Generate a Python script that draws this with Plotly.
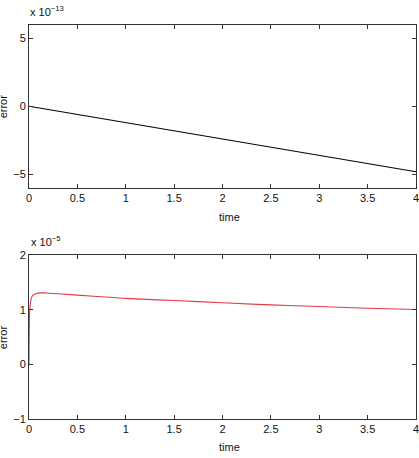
import plotly.graph_objects as go

# Top panel data (error, order 1e-13)
t_top = [0, 4]
err_top = [0.0, -4.8e-13]

# Bottom panel data (error, order 1e-5)
t_bot = [0, 0.002, 0.005, 0.01, 0.02, 0.03, 0.05, 0.08, 0.12, 0.16, 0.2, 0.3, 0.5, 0.75, 1.0, 1.5, 2.0, 2.5, 3.0, 3.5, 4.0]
err_bot = [0, 0.5e-5, 0.85e-5, 1.05e-5, 1.18e-5, 1.24e-5, 1.28e-5, 1.30e-5, 1.31e-5, 1.31e-5, 1.305e-5, 1.295e-5, 1.27e-5, 1.24e-5, 1.21e-5, 1.17e-5, 1.13e-5, 1.09e-5, 1.06e-5, 1.03e-5, 1.005e-5]

x_ticks = [0, 0.5, 1, 1.5, 2, 2.5, 3, 3.5, 4]
x_ticktext = ["0", "0.5", "1", "1.5", "2", "2.5", "3", "3.5", "4"]
top_yticks = [-5e-13, 0, 5e-13]
top_yticktext = ["\u22125", "0", "5"]
bot_yticks = [-1e-5, 0, 1e-5, 2e-5]
bot_yticktext = ["\u22121", "0", "1", "2"]

W, H = 419, 458
fig = go.Figure()
fig.add_trace(go.Scatter(x=t_top, y=err_top, mode="lines",
                         line=dict(color="black", width=1.1), xaxis="x", yaxis="y", showlegend=False))
fig.add_trace(go.Scatter(x=t_bot, y=err_bot, mode="lines", line_shape="spline",
                         line=dict(color="#e23a46", width=1.1), xaxis="x2", yaxis="y2", showlegend=False))

font = dict(family="Liberation Sans, Arial, sans-serif", size=11, color="#111")
axcommon = dict(showgrid=False, zeroline=False, showline=True, linecolor="#333", linewidth=1,
                mirror="ticks", ticks="inside", ticklen=4, tickcolor="#333", tickfont=font,
                ticklabeloverflow="allow")

L, R = 29, 417
fig.update_layout(
    width=W, height=H, margin=dict(l=L, r=W - R, t=0, b=0),
    paper_bgcolor="white", plot_bgcolor="white",
    xaxis=dict(domain=[0, 1], range=[0, 4], tickvals=x_ticks, ticktext=x_ticktext, anchor="y", **axcommon),
    yaxis=dict(domain=[(H - 187) / H, (H - 19) / H], range=[-6e-13, 6e-13], tickvals=top_yticks,
               ticktext=top_yticktext, anchor="x", **axcommon),
    xaxis2=dict(domain=[0, 1], range=[0, 4], tickvals=x_ticks, ticktext=x_ticktext, anchor="y2", **axcommon),
    yaxis2=dict(domain=[(H - 424) / H, (H - 256) / H], range=[-1e-5, 2e-5], tickvals=bot_yticks,
                ticktext=bot_yticktext, anchor="x2", **axcommon),
)

def px_y(p):
    return 1 - p / H

ann = []
# time labels
ann.append(dict(text="time", x=(230 - L) / (R - L), y=px_y(217), xref="x domain", yref="paper",
                showarrow=False, font=font, xanchor="center", yanchor="middle"))
ann.append(dict(text="time", x=(230 - L) / (R - L), y=px_y(453), xref="x domain", yref="paper",
                showarrow=False, font=font, xanchor="center", yanchor="middle"))
# error labels
for yc in (103, 340):
    ann.append(dict(text="error", x=(3 - L) / (R - L), y=px_y(yc), xref="x domain", yref="paper",
                    showarrow=False, font=font, textangle=-90, xanchor="center", yanchor="middle"))
# exponent labels
ann.append(dict(text="x 10<sup>\u221213</sup>", x=(28 - L) / (R - L), y=px_y(5), xref="x domain", yref="paper",
                showarrow=False, font=font, xanchor="left", yanchor="middle"))
ann.append(dict(text="x 10<sup>\u22125</sup>", x=(29 - L) / (R - L), y=px_y(241), xref="x domain", yref="paper",
                showarrow=False, font=font, xanchor="left", yanchor="middle"))
fig.update_layout(annotations=ann)

fig.write_html("out.html")
